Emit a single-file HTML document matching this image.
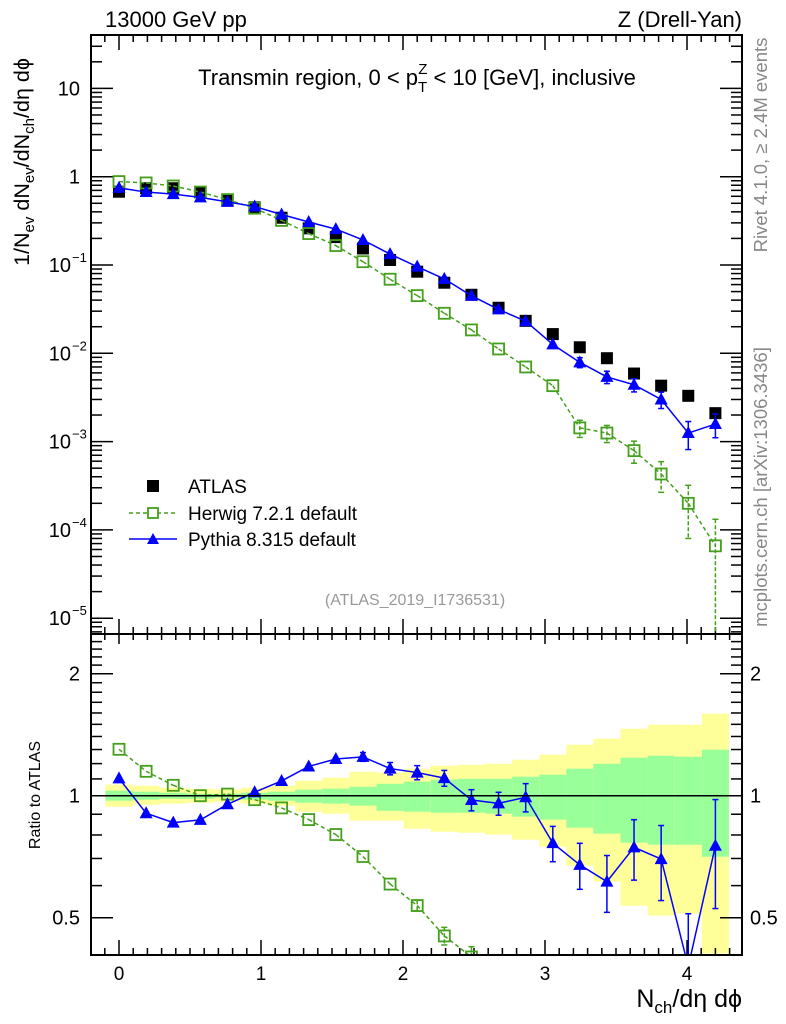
<!DOCTYPE html>
<html><head><meta charset="utf-8"><style>
html,body{margin:0;padding:0;background:#fff;width:786px;height:1024px;overflow:hidden;}
svg{display:block;font-family:"Liberation Sans",sans-serif;}
</style></head><body>
<svg id="chart" width="786" height="1024" viewBox="0 0 786 1024" xmlns="http://www.w3.org/2000/svg">
<defs>
<clipPath id="clipMain"><rect x="91" y="35" width="651" height="599"/></clipPath>
<clipPath id="clipRatio"><rect x="91" y="634" width="651" height="321"/></clipPath>
</defs>
<g id="bands" clip-path="url(#clipRatio)"></g>
<g id="ticks"></g>
<g id="series"></g>
<rect x="91" y="35" width="651" height="599" fill="none" stroke="#000" stroke-width="2"/>
<rect x="91" y="634" width="651" height="321" fill="none" stroke="#000" stroke-width="2"/>
<line x1="91" y1="795.7" x2="742" y2="795.7" stroke="#000" stroke-width="1.5"/>
<text x="105" y="27" font-size="22">13000 GeV pp</text>
<text x="742" y="27" font-size="22" text-anchor="end">Z (Drell-Yan)</text>
<text x="417" y="85" font-size="22" text-anchor="middle">Transmin region, 0 &lt; p<tspan font-size="15" dy="7">T</tspan><tspan font-size="15" dx="-9" dy="-18">Z</tspan><tspan dy="11"> &lt; 10 [GeV], inclusive</tspan></text>
<text x="415" y="605" font-size="16" fill="#999" text-anchor="middle">(ATLAS_2019_I1736531)</text>
<text transform="translate(767,145) rotate(-90)" font-size="18.5" fill="#888" text-anchor="middle">Rivet 4.1.0, ≥ 2.4M events</text>
<text transform="translate(767,487) rotate(-90)" font-size="18.5" fill="#888" text-anchor="middle">mcplots.cern.ch [arXiv:1306.3436]</text>
<text transform="translate(29,162) rotate(-90)" font-size="21.5" text-anchor="middle">1/N<tspan font-size="15" dy="5">ev</tspan><tspan dy="-5"> dN</tspan><tspan font-size="15" dy="5">ev</tspan><tspan dy="-5">/dN</tspan><tspan font-size="15" dy="5">ch</tspan><tspan dy="-5">/dη dϕ</tspan></text>
<text transform="translate(40,795) rotate(-90)" font-size="16" text-anchor="middle">Ratio to ATLAS</text>
<text x="742" y="1007" font-size="25" text-anchor="end">N<tspan font-size="17" dy="6">ch</tspan><tspan dy="-6">/dη dϕ</tspan></text>
<g>
<rect x="147" y="480" width="12" height="12" fill="#000"/>
<text x="188" y="493" font-size="19">ATLAS</text>
<line x1="129" y1="513" x2="177" y2="513" stroke="#44a01c" stroke-width="1.5" stroke-dasharray="4,3"/>
<rect x="148" y="508" width="10" height="10" fill="#fff" stroke="#44a01c" stroke-width="1.8"/>
<text x="188" y="520" font-size="19">Herwig 7.2.1 default</text>
<line x1="129" y1="539" x2="177" y2="539" stroke="#0000ff" stroke-width="1.5"/>
<polygon points="153,533 159,544 147,544" fill="#0000ff"/>
<text x="188" y="546" font-size="19">Pythia 8.315 default</text>
</g>
</svg>
<script>
const xVals = [0,0.191,0.382,0.573,0.764,0.955,1.145,1.336,1.527,1.718,1.909,2.1,2.291,2.482,2.673,2.864,3.055,3.245,3.436,3.627,3.818,4.009,4.2];
const atlas = [0.676,0.74,0.74,0.67,0.545,0.45,0.343,0.26,0.207,0.154,0.114,0.084,0.063,0.046,0.0328,0.0233,0.0165,0.0117,0.0088,0.0059,0.0043,0.0033,0.0021];
const herwig = [0.88,0.85,0.785,0.67,0.55,0.44,0.32,0.227,0.166,0.109,0.069,0.045,0.0284,0.0184,0.0112,0.0070,0.0043,0.00143,0.00125,0.00079,0.00043,0.0002,0.000066];
const herwigErr = [0.01,0.01,0.01,0.01,0.01,0.01,0.01,0.01,0.01,0.015,0.02,0.03,0.05,0.06,0.07,0.08,0.08,0.22,0.22,0.28,0.38,0.6,1.0];
const pythia = [0.746,0.67,0.635,0.584,0.519,0.459,0.373,0.307,0.255,0.192,0.133,0.0958,0.0696,0.0449,0.0314,0.0231,0.0126,0.0079,0.0054,0.0044,0.0030,0.00125,0.00158];
const pythiaErr = [0.01,0.01,0.01,0.01,0.01,0.01,0.01,0.01,0.015,0.025,0.035,0.04,0.045,0.06,0.065,0.08,0.1,0.13,0.16,0.17,0.21,0.35,0.3];
const yellowUp = [0.065,0.058,0.046,0.04,0.035,0.046,0.058,0.089,0.108,0.146,0.14,0.166,0.186,0.192,0.199,0.227,0.262,0.336,0.383,0.463,0.497,0.497,0.594];
const yellowDn = [0.061,0.05,0.044,0.039,0.034,0.044,0.055,0.087,0.097,0.132,0.132,0.171,0.185,0.19,0.198,0.221,0.252,0.328,0.386,0.465,0.494,0.488,0.592];
const greenUp = [0.029,0.023,0.017,0.011,0.011,0.017,0.023,0.035,0.041,0.052,0.07,0.083,0.095,0.101,0.101,0.114,0.127,0.166,0.199,0.241,0.255,0.248,0.299];
const greenDn = [0.028,0.022,0.017,0.017,0.011,0.022,0.028,0.039,0.044,0.055,0.082,0.087,0.092,0.092,0.097,0.112,0.127,0.166,0.194,0.234,0.243,0.243,0.293];
const xTicks = [0,1,2,3,4];
const mainTickLabels = [[10,"10",null],[1,"1",null],[0.1,"10","−1"],[0.01,"10","−2"],[0.001,"10","−3"],[0.0001,"10","−4"],[0.00001,"10","−5"]];
const ratioTickLabels = [[2,"2"],[1,"1"],[0.5,"0.5"]];

const NS="http://www.w3.org/2000/svg";
const X0=91,X1=742;
const sx=v=>119+v*142;
const sy=v=>176.7-88.3*Math.log10(v);
const sr=v=>795.7-122*Math.log2(v);
function mk(tag,attrs,parent){const e=document.createElementNS(NS,tag);for(const k in attrs)e.setAttribute(k,attrs[k]);parent.appendChild(e);return e;}
const T=document.getElementById('ticks'), S=document.getElementById('series'), B=document.getElementById('bands');

const hw=0.0955;
for(let i=0;i<xVals.length;i++){
  const xa=sx(xVals[i]-hw), xb=sx(xVals[i]+hw);
  const y=mk('rect',{x:xa,y:sr(1+yellowUp[i]),width:xb-xa,height:sr(1-yellowDn[i])-sr(1+yellowUp[i]),fill:'#ffff99'},B);
  
  
  const g=mk('rect',{x:xa,y:sr(1+greenUp[i]),width:xb-xa,height:sr(1-greenDn[i])-sr(1+greenUp[i]),fill:'#99ff99'},B);
  
  
}

for(let k=-1;k<=43;k++){
  const v=k/10, x=sx(v); if(x<X0+1||x>X1-1) continue;
  const major=(k%10===0);
  const L=major?15:7, L2=major?10:6;
  mk('line',{x1:x,y1:634,x2:x,y2:634-L,stroke:'#000','stroke-width':1.5},T);
  mk('line',{x1:x,y1:35,x2:x,y2:35+L,stroke:'#000','stroke-width':1.5},T);
  mk('line',{x1:x,y1:634,x2:x,y2:634+L2,stroke:'#000','stroke-width':1.5},T);
  mk('line',{x1:x,y1:955,x2:x,y2:955-L,stroke:'#000','stroke-width':1.5},T);
}
xTicks.forEach(v=>{
  const t=mk('text',{x:sx(v),y:980,'font-size':19,'text-anchor':'middle'},T);
  t.textContent=v;
  
  
});
for(let d=-6;d<=1;d++){
  for(let m=1;m<=9;m++){
    const v=m*Math.pow(10,d), y=sy(v); if(y<36||y>633) continue;
    const L=m===1?22:11;
    mk('line',{x1:X0,y1:y,x2:X0+L,y2:y,stroke:'#000','stroke-width':1.5},T);
    mk('line',{x1:X1,y1:y,x2:X1-L,y2:y,stroke:'#000','stroke-width':1.5},T);
  }
}
mainTickLabels.forEach(([v,b,e])=>{
  const t=mk('text',{x:e?71:80,y:sy(v)+7,'font-size':20,'text-anchor':'end'},T);
  t.textContent=b;
  
  
  if(e){
    const s=mk('text',{x:72,y:sy(v)-3,'font-size':13},T);
    s.textContent=e;
    
    
  }
});
for(let k=5;k<=25;k++){
  const v=k/10, y=sr(v); if(y<635||y>954) continue;
  const L=(k===5||k===10||k===20)?22:11;
  mk('line',{x1:X0,y1:y,x2:X0+L,y2:y,stroke:'#000','stroke-width':1.5},T);
  mk('line',{x1:X1,y1:y,x2:X1-L,y2:y,stroke:'#000','stroke-width':1.5},T);
}
ratioTickLabels.forEach(([v,s])=>{
  const a=mk('text',{x:80,y:sr(v)+7,'font-size':20,'text-anchor':'end'},T);a.textContent=s;
  
  
  const b=mk('text',{x:750,y:sr(v)+7,'font-size':20},T);b.textContent=s;
  
  
});

function clippedPath(pts,yMin,yMax){
  let d='';
  for(let i=0;i<pts.length-1;i++){
    let [x1,y1]=pts[i],[x2,y2]=pts[i+1];
    if((y1<yMin&&y2<yMin)||(y1>yMax&&y2>yMax)) continue;
    const cut=(xa,ya,xb,yb,yc)=>[xa+(xb-xa)*(yc-ya)/(yb-ya),yc];
    if(y1<yMin)[x1,y1]=cut(x1,y1,x2,y2,yMin);
    if(y1>yMax)[x1,y1]=cut(x1,y1,x2,y2,yMax);
    if(y2<yMin)[x2,y2]=cut(x1,y1,x2,y2,yMin);
    if(y2>yMax)[x2,y2]=cut(x1,y1,x2,y2,yMax);
    d+=`M${x1.toFixed(2)},${y1.toFixed(2)}L${x2.toFixed(2)},${y2.toFixed(2)}`;
  }
  return d;
}

const GREEN='#44a01c', BLUE='#0000ff';
function drawSeries(parent,ys,errs,scale,color,dash,marker,name,ratioDen,yMin,yMax,withLine){
  const g=mk('g',{},parent);
  
  
  const clampY=y=>Math.max(yMin,Math.min(yMax,y));
  const vals=ys.map((v,i)=>ratioDen?v/ratioDen[i]:v);
  if(withLine){
    const pts=vals.map((v,i)=>[sx(xVals[i]),scale(v)]);
    const pl=mk('path',{d:clippedPath(pts,yMin,yMax),fill:'none',stroke:color,'stroke-width':1.5},g);
    if(dash) pl.setAttribute('stroke-dasharray','4,3');
  }
  vals.forEach((v,i)=>{
    const x=sx(xVals[i]);
    if(errs){
      const hiRaw=scale(v*(1+errs[i]));
      const loRaw=(1-errs[i])>0.001?scale(v*(1-errs[i])):yMax+100;
      const hi=clampY(hiRaw), lo=clampY(loRaw);
      const e=mk('g',{stroke:color,'stroke-width':1.5},g);
      if(dash) e.setAttribute('stroke-dasharray','4,2');
      if(Math.abs(loRaw-hiRaw)>8 && lo>hi){
        mk('line',{x1:x,y1:hi,x2:x,y2:lo},e);
        if(hiRaw>=yMin) mk('line',{x1:x-3,y1:hi,x2:x+3,y2:hi,'stroke-dasharray':'none'},e);
        if(loRaw<=yMax) mk('line',{x1:x-3,y1:lo,x2:x+3,y2:lo,'stroke-dasharray':'none'},e);
      }
    }
    const y=scale(v);
    if(y>yMax+6||y<yMin-6) return;
    let m;
    if(marker==='sq') m=mk('rect',{x:x-6,y:y-6,width:12,height:12,fill:'#000'},g);
    else if(marker==='osq') m=mk('rect',{x:x-5.5,y:y-5.5,width:11,height:11,fill:'none',stroke:color,'stroke-width':1.8},g);
    else m=mk('polygon',{points:`${x},${y-7} ${x+6.5},${y+5} ${x-6.5},${y+5}`,fill:color},g);
    
    
  });
  return g;
}
const mainG=mk('g',{'clip-path':'url(#clipMain)'},S);
const ratioG=mk('g',{'clip-path':'url(#clipRatio)'},S);
drawSeries(mainG,atlas,null,sy,'#000',false,'sq','atlas-series',null,35,634,false);
drawSeries(mainG,herwig,herwigErr,sy,GREEN,true,'osq','herwig-series',null,35,634,true);
drawSeries(mainG,pythia,pythiaErr,sy,BLUE,false,'tri','pythia-series',null,35,634,true);
drawSeries(ratioG,herwig,herwigErr,sr,GREEN,true,'osq','herwig-ratio',atlas,634,955,true);
drawSeries(ratioG,pythia,pythiaErr,sr,BLUE,false,'tri','pythia-ratio',atlas,634,955,true);
</script>
</body></html>
